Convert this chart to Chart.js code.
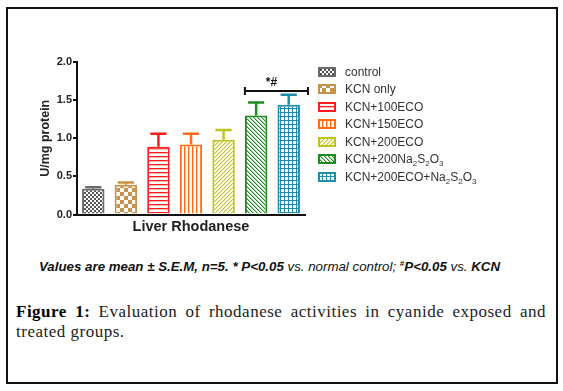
<!DOCTYPE html>
<html lang="en">
<head>
<meta charset="UTF-8" />
<title>Liver Rhodanese</title>
<script src="https://cdn.jsdelivr.net/npm/chart.js"></script>
<style>
  html, body { margin: 0; padding: 0; background: #fff; }
  body { width: 563px; height: 391px; position: relative; overflow: hidden; }
  .frame { position: absolute; left: 6px; top: 7px; width: 548px; height: 373px; border: 2px solid #111; }
  #chartBox { position: absolute; left: 0; top: 0; width: 563px; height: 242px; }
  .legend { position: absolute; left: 318px; top: 63px; font-family: 'Liberation Sans', Arial, sans-serif;
    font-size: 12px; color: #333; }
  .legend .row { height: 17.5px; display: flex; align-items: center; white-space: nowrap; }
  .legend canvas { width: 18px; height: 10px; margin-right: 9px; }
  .legend sub { font-size: 8px; vertical-align: -3px; line-height: 0; }
  .note { position: absolute; top: 259px; left: -12px; width: 563px; text-align: center;
    font-family: 'Liberation Sans', Arial, sans-serif; font-style: italic; font-weight: bold;
    font-size: 13.3px; color: #111; }
  .note .lt { font-weight: normal; }
  .note sup { font-size: 8px; }
  .caption { position: absolute; left: 16px; top: 302px; width: 530px;
    font-family: 'Liberation Serif', serif; font-size: 17px; letter-spacing: 0.5px; line-height: 20px; color: #222; }
  .caption .l1 { text-align: justify; text-align-last: justify; }
  .caption b { color: #000; }
</style>
</head>
<body>
  <div class="frame"></div>
  <div id="chartBox"><canvas id="rhodChart"></canvas></div>
  <div class="legend" id="legend"></div>
  <div class="note">Values are mean ± S.E.M, n=5. * P&lt;0.05 <span class="lt">vs. normal control;</span> <sup>#</sup>P&lt;0.05 <span class="lt">vs.</span> KCN</div>
  <div class="caption">
    <div class="l1"><b>Figure 1:</b> Evaluation of rhodanese activities in cyanide exposed and</div>
    <div>treated groups.</div>
  </div>

<script>
  const groups = ['control', 'KCN only', 'KCN+100ECO', 'KCN+150ECO', 'KCN+200ECO',
    'KCN+200Na₂S₂O₃', 'KCN+200ECO+Na₂S₂O₃'];
  const means = [0.34, 0.39, 0.89, 0.92, 0.98, 1.30, 1.44];
  const sems = [0.02, 0.03, 0.17, 0.14, 0.13, 0.17, 0.13];
  const yTicks = [0, 0.5, 1.0, 1.5, 2.0];

  const borders = ['#6b6b6b', '#c8924a', '#ff1c1c', '#ff6d1a', '#c2c21c', '#1f8a1f', '#1f8cab'];

  function makePattern(size, draw) {
    const c = document.createElement('canvas');
    c.width = size;
    c.height = size;
    const g = c.getContext('2d');
    g.fillStyle = '#fff';
    g.fillRect(0, 0, size, size);
    draw(g);
    return g.createPattern(c, 'repeat');
  }

  const fills = [
    makePattern(4, g => { g.fillStyle = '#555'; g.fillRect(0, 0, 2, 2); g.fillRect(2, 2, 2, 2); }),
    makePattern(8, g => { g.fillStyle = '#c8924a'; g.fillRect(0, 0, 4, 4); g.fillRect(4, 4, 4, 4); }),
    makePattern(4, g => { g.fillStyle = '#ff1c1c'; g.fillRect(0, 0, 4, 1); g.fillStyle = '#ffb4b4'; g.fillRect(0, 1, 4, 1); }),
    makePattern(4, g => { g.fillStyle = '#ff6d1a'; g.fillRect(0, 0, 1, 4); g.fillStyle = '#ffc09a'; g.fillRect(1, 0, 1, 4); }),
    makePattern(4, g => { g.fillStyle = '#c2c21c'; for (let i = 0; i < 4; i++) g.fillRect(3 - i, i, 1, 1);
      g.fillStyle = '#e6e6a0'; for (let i = 0; i < 4; i++) g.fillRect((4 - i) % 4, i, 1, 1); }),
    makePattern(4, g => { g.fillStyle = '#1f8a1f'; for (let i = 0; i < 4; i++) g.fillRect(i, i, 1, 1);
      g.fillStyle = '#a6d3a6'; for (let i = 0; i < 4; i++) g.fillRect((i + 1) % 4, i, 1, 1); }),
    makePattern(4, g => { g.fillStyle = '#1f8cab'; g.fillRect(0, 0, 4, 1); g.fillRect(0, 0, 1, 4); }),
  ];

  // legend as html so the subscripts come out right
  const legendEl = document.getElementById('legend');
  groups.forEach((name, i) => {
    const row = document.createElement('div');
    row.className = 'row';
    const box = document.createElement('canvas');
    box.width = 18;
    box.height = 10;
    const g = box.getContext('2d');
    g.fillStyle = fills[i];
    g.fillRect(0, 0, 18, 10);
    g.strokeStyle = borders[i];
    g.lineWidth = 2;
    g.strokeRect(1, 1, 16, 8);
    const label = document.createElement('span');
    label.innerHTML = name.replace(/₂/g, '<sub>2</sub>').replace(/₃/g, '<sub>3</sub>');
    row.appendChild(box);
    row.appendChild(label);
    legendEl.appendChild(row);
  });

  const errorBars = {
    id: 'errorBars',
    afterDatasetsDraw(chart) {
      const ctx = chart.ctx;
      const y = chart.scales.y;
      const meta = chart.getDatasetMeta(0);
      ctx.save();
      meta.data.forEach((bar, i) => {
        const top = y.getPixelForValue(means[i] + sems[i]);
        const base = y.getPixelForValue(means[i]);
        const half = bar.width * 0.36;
        ctx.strokeStyle = borders[i];
        ctx.lineWidth = 2.5;
        ctx.beginPath();
        ctx.moveTo(bar.x, base);
        ctx.lineTo(bar.x, top);
        ctx.moveTo(bar.x - half, top);
        ctx.lineTo(bar.x + half, top);
        ctx.stroke();
      });

      // significance bracket over the last two groups
      const b1 = meta.data[5];
      const b2 = meta.data[6];
      const by = y.getPixelForValue(1.62);
      const x1 = b1.x - b1.width / 2;
      const x2 = b2.x + b2.width / 2 + 8;
      ctx.strokeStyle = '#111';
      ctx.lineWidth = 2;
      ctx.beginPath();
      ctx.moveTo(x1, by);
      ctx.lineTo(x2, by);
      ctx.moveTo(x1, by - 4);
      ctx.lineTo(x1, by + 4);
      ctx.moveTo(x2, by - 4);
      ctx.lineTo(x2, by + 4);
      ctx.stroke();
      ctx.fillStyle = '#111';
      ctx.textAlign = 'center';
      ctx.textBaseline = 'alphabetic';
      ctx.font = 'bold 12px "Liberation Sans", Arial, sans-serif';
      ctx.fillText('*#', (x1 + x2) / 2 - 5, by - 5);
      ctx.restore();
    },
  };

  const ctx = document.getElementById('rhodChart').getContext('2d');
  new Chart(ctx, {
    type: 'bar',
    data: {
      labels: groups,
      datasets: [
        {
          label: 'U/mg protein',
          data: means,
          backgroundColor: fills,
          borderColor: borders,
          borderWidth: 2,
          barPercentage: 0.69,
          categoryPercentage: 1,
        },
      ],
    },
    options: {
      responsive: true,
      maintainAspectRatio: false,
      animation: false,
      layout: { padding: { left: 38, top: 62, right: 258, bottom: 6 } },
      plugins: {
        tooltip: { enabled: false },
        legend: { display: false },
      },
      scales: {
        x: {
          grid: { display: false },
          border: { display: true, color: '#111', width: 2 },
          ticks: { display: false },
          title: {
            display: true,
            text: 'Liver Rhodanese',
            color: '#222',
            font: { family: '"Liberation Sans", Arial, sans-serif', size: 14.5, weight: 'bold' },
            padding: { top: -4, bottom: 0 },
          },
        },
        y: {
          min: 0,
          max: 2,
          afterFit: scale => { scale.width = 39; },
          afterBuildTicks: scale => { scale.ticks = yTicks.map(v => ({ value: v })); },
          grid: { display: true, drawOnChartArea: false, drawTicks: true, tickLength: 4, color: '#111', lineWidth: 2 },
          border: { display: true, color: '#111', width: 2 },
          ticks: {
            color: '#222',
            padding: 1,
            font: { family: '"Liberation Sans", Arial, sans-serif', size: 11, weight: 'bold' },
            callback: v => v.toFixed(1),
          },
          title: {
            display: true,
            text: 'U/mg protein',
            color: '#222',
            font: { family: '"Liberation Sans", Arial, sans-serif', size: 12.5, weight: 'bold' },
            padding: { top: 0, bottom: 2 },
          },
        },
      },
    },
    plugins: [errorBars],
  });
</script>
</body>
</html>
